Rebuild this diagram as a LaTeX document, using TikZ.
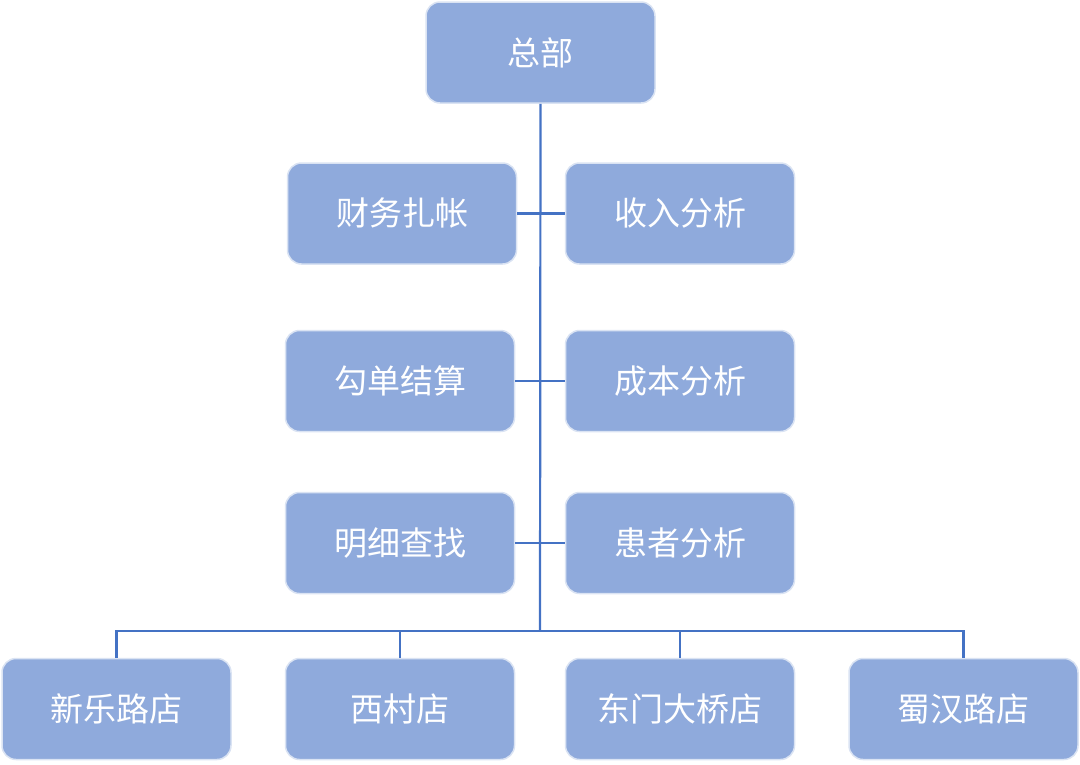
\documentclass[tikz,border=0pt]{standalone}
\usepackage{fontspec}
\newfontfamily\cjk{Noto Sans CJK SC}
\usetikzlibrary{positioning,calc}
\definecolor{boxfill}{HTML}{8FAADC}
\definecolor{boxedge}{HTML}{DAE3F3}
\definecolor{linkblue}{HTML}{4472C4}

\begin{document}
\begin{tikzpicture}[
  x=1pt, y=-1pt,
  box/.style={rectangle, draw=boxedge, line width=1.5pt, fill=boxfill, rounded corners=14pt,
    minimum width=229pt, minimum height=101pt, align=center, text=white,
    font=\cjk\fontsize{33}{40}\selectfont},
  link/.style={draw=linkblue, line width=2.2pt}
]
  \useasboundingbox (0,0) rectangle (1080,764);
  % top
  \node[box] (hq) at (540.5,52.5) {总部};
  % middle rows
  \node[box] (fin) at (402,213.5) {财务扎帐};
  \node[box] (inc) at (680,213.5) {收入分析};
  \node[box] (chk) at (400,381) {勾单结算};
  \node[box] (cost) at (680,381) {成本分析};
  \node[box] (find) at (400,543) {明细查找};
  \node[box] (pat) at (680,543) {患者分析};
  % stores
  \node[box] (xl) at (116.5,709) {新乐路店};
  \node[box] (xc) at (400,709) {西村店};
  \node[box] (dm) at (680,709) {东门大桥店};
  \node[box] (sh) at (963.5,709) {蜀汉路店};
  \coordinate (bus) at (540,631);
  \draw[link] (hq.south) -- (bus);
  \draw[link] (fin.east) -- (inc.west);
  \draw[link] (chk.east) -- (cost.west);
  \draw[link] (find.east) -- (pat.west);
  \draw[link] (bus) -| (xl.north);
  \draw[link] (bus) -| (xc.north);
  \draw[link] (bus) -| (dm.north);
  \draw[link] (bus) -| (sh.north);
\end{tikzpicture}
\end{document}
